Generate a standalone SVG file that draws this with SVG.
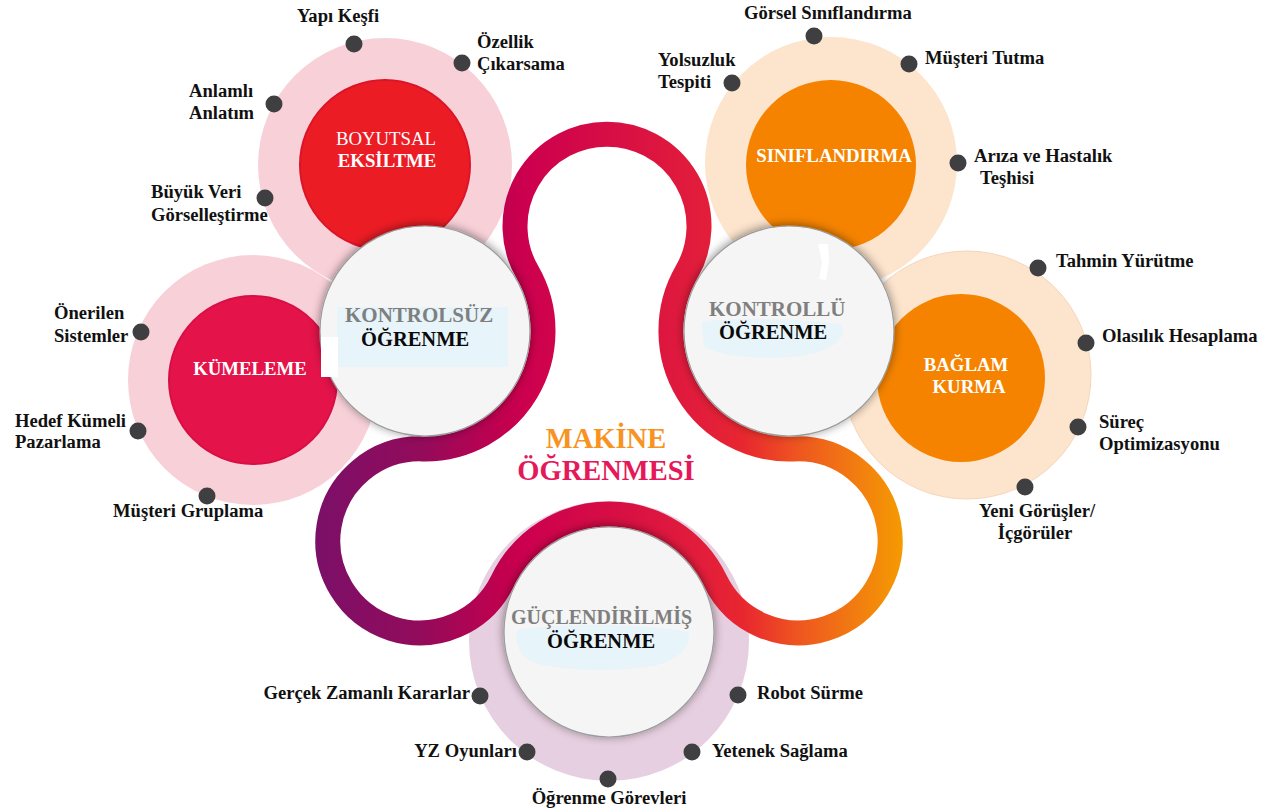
<svg xmlns="http://www.w3.org/2000/svg" width="1277" height="812" viewBox="0 0 1277 812">
  <defs>
    <style>
      .lbl { font-family: "Liberation Serif", "Times New Roman", serif; font-weight: bold; font-size: 18.6px; fill: #111; }
      .in  { font-family: "Liberation Serif", "Times New Roman", serif; font-weight: bold; font-size: 18.8px; fill: #fff; }
      .in-r { font-weight: normal; }
      .hub1 { font-family: "Liberation Serif", "Times New Roman", serif; font-weight: bold; font-size: 21px; fill: #7f7f7f; }
      .hub2 { font-family: "Liberation Serif", "Times New Roman", serif; font-weight: bold; font-size: 20.5px; fill: #0a0a0a; }
      .title { font-family: "Liberation Serif", "Times New Roman", serif; font-weight: bold; font-size: 28.5px; text-anchor: middle; }
      .dot { fill: #3f3f42; }
      .pink { fill: #f8d0d8; }
      .peach { fill: #fce4cd; }
      .hub { fill: #f5f5f5; stroke: #9c9c9c; stroke-width: 1.2; filter: url(#shadow); }
      .tint { fill: #e4f3fa; opacity: 0.85; }
    </style>
    <filter id="shadow" x="-25%" y="-25%" width="150%" height="150%">
      <feDropShadow dx="0" dy="-1" stdDeviation="5" flood-color="#000" flood-opacity="0.45"/>
    </filter>
    <linearGradient id="ribbon" gradientUnits="userSpaceOnUse" x1="307" y1="0" x2="905" y2="0">
      <stop offset="0" stop-color="#79106a"/>
      <stop offset="0.19" stop-color="#930b5b"/>
      <stop offset="0.33" stop-color="#c2004e"/>
      <stop offset="0.37" stop-color="#cd004e"/>
      <stop offset="0.67" stop-color="#e31e3a"/>
      <stop offset="0.73" stop-color="#e8272f"/>
      <stop offset="0.82" stop-color="#ee5520"/>
      <stop offset="0.92" stop-color="#f27d10"/>
      <stop offset="1" stop-color="#f59c00"/>
    </linearGradient>
  </defs>

  <rect width="1277" height="812" fill="#fff"/>

  <!-- Boyutsal eksiltme cluster -->
  <g id="node-boyutsal-eksiltme">
    <circle class="pink" cx="385" cy="165" r="127"/>
    <circle cx="385" cy="165" r="85" fill="#ec1c24" stroke="#dc1428" stroke-width="2"/>
    <text class="in in-r" x="386" y="145" text-anchor="middle">BOYUTSAL</text>
    <text class="in" x="387" y="167" text-anchor="middle">EKSİLTME</text>
    <circle class="dot" cx="354" cy="44" r="8.5"/>
    <circle class="dot" cx="462" cy="63" r="8.5"/>
    <circle class="dot" cx="274" cy="104" r="8.5"/>
    <circle class="dot" cx="265" cy="198" r="8.5"/>
    <text class="lbl" x="297" y="22">Yapı Keşfi</text>
    <text class="lbl" x="477" y="48">Özellik</text>
    <text class="lbl" x="477" y="70">Çıkarsama</text>
    <text class="lbl" x="189" y="97">Anlamlı</text>
    <text class="lbl" x="189" y="119">Anlatım</text>
    <text class="lbl" x="151" y="198">Büyük Veri</text>
    <text class="lbl" x="151" y="221">Görselleştirme</text>
  </g>

  <!-- Kümeleme cluster -->
  <g id="node-kumeleme">
    <circle class="pink" cx="253" cy="380" r="125"/>
    <circle cx="253" cy="380" r="84" fill="#e4134a" stroke="#d80f45" stroke-width="2"/>
    <text class="in" x="250" y="375" text-anchor="middle">KÜMELEME</text>
    <circle class="dot" cx="141" cy="332" r="8.5"/>
    <circle class="dot" cx="138" cy="431" r="8.5"/>
    <circle class="dot" cx="207" cy="496" r="8.5"/>
    <text class="lbl" x="54" y="319">Önerilen</text>
    <text class="lbl" x="54" y="342">Sistemler</text>
    <text class="lbl" x="15" y="427">Hedef Kümeli</text>
    <text class="lbl" x="15" y="448">Pazarlama</text>
    <text class="lbl" x="113" y="517">Müşteri Gruplama</text>
  </g>

  <!-- Sınıflandırma cluster -->
  <g id="node-siniflandirma">
    <circle class="peach" cx="831" cy="163" r="126"/>
    <circle cx="831" cy="165" r="85" fill="#f58300"/>
    <text class="in" x="834" y="162" text-anchor="middle">SINIFLANDIRMA</text>
    <circle class="dot" cx="814" cy="36" r="8.5"/>
    <circle class="dot" cx="909" cy="64" r="8.5"/>
    <circle class="dot" cx="732" cy="83" r="8.5"/>
    <circle class="dot" cx="958" cy="163" r="8.5"/>
    <text class="lbl" x="744" y="19">Görsel Sınıflandırma</text>
    <text class="lbl" x="925" y="64">Müşteri Tutma</text>
    <text class="lbl" x="658" y="66">Yolsuzluk</text>
    <text class="lbl" x="658" y="88">Tespiti</text>
    <text class="lbl" x="974" y="162">Arıza ve Hastalık</text>
    <text class="lbl" x="980" y="184">Teşhisi</text>
  </g>

  <!-- Bağlam kurma cluster -->
  <g id="node-baglam-kurma">
    <circle class="peach" cx="967" cy="375" r="124" stroke="#f6d6b8" stroke-width="1"/>
    <circle cx="961" cy="378" r="84" fill="#f58300"/>
    <text class="in" x="966" y="371" text-anchor="middle">BAĞLAM</text>
    <text class="in" x="969" y="393" text-anchor="middle">KURMA</text>
    <circle class="dot" cx="1038" cy="268" r="8.5"/>
    <circle class="dot" cx="1086" cy="343" r="8.5"/>
    <circle class="dot" cx="1078" cy="427" r="8.5"/>
    <circle class="dot" cx="1025" cy="487" r="8.5"/>
    <text class="lbl" x="1056" y="267">Tahmin Yürütme</text>
    <text class="lbl" x="1102" y="342">Olasılık Hesaplama</text>
    <text class="lbl" x="1099" y="428">Süreç</text>
    <text class="lbl" x="1099" y="450">Optimizasyonu</text>
    <text class="lbl" x="1037" y="517" text-anchor="middle">Yeni Görüşler/</text>
    <text class="lbl" x="1035" y="539" text-anchor="middle">İçgörüler</text>
  </g>

  <!-- Güçlendirilmiş öğrenme outer ring with its applications -->
  <g id="node-guclendirilmis-ring">
    <circle cx="609" cy="641" r="140" fill="#e6cfe0"/>
    <circle class="dot" cx="480" cy="696" r="8.5"/>
    <circle class="dot" cx="527" cy="752" r="8.5"/>
    <circle class="dot" cx="608" cy="779" r="8.5"/>
    <circle class="dot" cx="692" cy="752" r="8.5"/>
    <circle class="dot" cx="738" cy="695" r="8.5"/>
    <text class="lbl" x="470" y="699" text-anchor="end">Gerçek Zamanlı Kararlar</text>
    <text class="lbl" x="757" y="699">Robot Sürme</text>
    <text class="lbl" x="517" y="757" text-anchor="end">YZ Oyunları</text>
    <text class="lbl" x="712" y="757">Yetenek Sağlama</text>
    <text class="lbl" x="609" y="804" text-anchor="middle">Öğrenme Görevleri</text>
  </g>

  <!-- Ribbon linking the three learning hubs -->
  <g id="connectors">
    <path d="M 422.1 448.9 A 118 118 0 0 0 527.3 272.1 A 92 92 0 1 1 686.7 272.1 A 118 118 0 0 0 794.1 448.9 A 92 92 0 1 1 715.3 580.8 A 118 118 0 0 0 502.7 580.8 A 92 92 0 1 1 422.1 448.9 Z"
          fill="none" stroke="url(#ribbon)" stroke-width="25"/>
  </g>

  <!-- Hub: Kontrolsüz öğrenme -->
  <g id="node-kontrolsuz">
    <circle class="hub" cx="425" cy="331" r="105"/>
    <rect class="tint" x="337" y="307" width="171" height="60"/>
    <rect x="321" y="337" width="17" height="40" fill="#fff"/>
    <text class="hub1" x="345" y="322">KONTROLSÜZ</text>
    <text class="hub2" x="361" y="346">ÖĞRENME</text>
  </g>

  <!-- Hub: Kontrollü öğrenme -->
  <g id="node-kontrollu">
    <circle class="hub" cx="789" cy="331" r="105"/>
    <path class="tint" d="M 702 322 C 730 318 800 318 840 324 C 850 336 832 352 800 356 C 760 360 716 356 704 346 Z"/>
    <path d="M 818 244 L 828 244 L 829 262 L 826 280 L 819 279 L 822 262 Z" fill="#fff"/>
    <text class="hub1" x="709" y="316">KONTROLLÜ</text>
    <text class="hub2" x="719" y="339">ÖĞRENME</text>
  </g>

  <!-- Hub: Güçlendirilmiş öğrenme -->
  <g id="node-guclendirilmis">
    <circle class="hub" cx="609" cy="632" r="105"/>
    <path class="tint" d="M 518 630 C 560 622 650 624 688 632 C 692 648 676 664 640 668 C 600 672 556 670 532 662 C 518 654 514 640 518 630 Z"/>
    <text class="hub1" x="511" y="624" style="font-size:20px">GÜÇLENDİRİLMİŞ</text>
    <text class="hub2" x="547" y="648">ÖĞRENME</text>
  </g>

  <!-- Central title -->
  <g id="title">
    <text class="title" x="606" y="448" fill="#f7931e">MAKİNE</text>
    <text class="title" x="606" y="480" fill="#e5195a">ÖĞRENMESİ</text>
  </g>
</svg>
